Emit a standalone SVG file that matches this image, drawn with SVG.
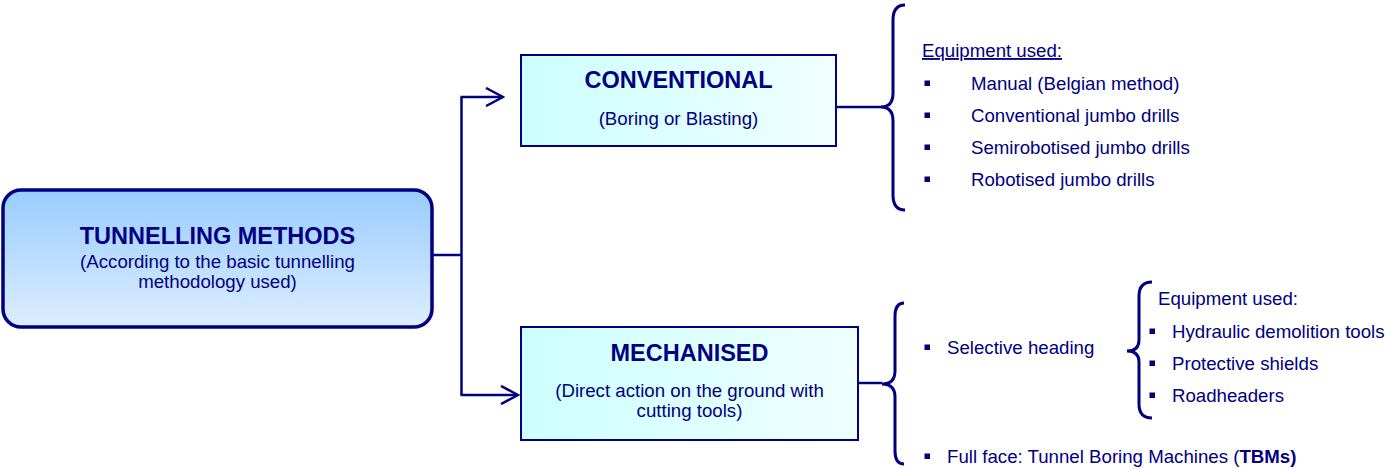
<svg xmlns="http://www.w3.org/2000/svg" width="1385" height="469" viewBox="0 0 1385 469">
<defs>
<linearGradient id="gMain" x1="0" y1="0" x2="0" y2="1">
<stop offset="0" stop-color="#99ccff"/>
<stop offset="1" stop-color="#ddeeff"/>
</linearGradient>
<linearGradient id="gSub" x1="0" y1="0" x2="1" y2="0">
<stop offset="0" stop-color="#ccffff"/>
<stop offset="1" stop-color="#f0ffff"/>
</linearGradient>
<marker id="arr" viewBox="0 0 20 20" refX="18" refY="10" markerWidth="20" markerHeight="20" markerUnits="userSpaceOnUse" orient="auto">
<path d="M1,1 L18,10 L1,19" fill="none" stroke="#000080" stroke-width="2.5"/>
</marker>
<style>
text{font-family:"Liberation Sans",Arial,sans-serif;fill:#000080;}
.t{font-size:23.5px;font-weight:bold;text-anchor:middle;}
.s{font-size:18.67px;text-anchor:middle;}
.l{font-size:18.67px;}
.line{fill:none;stroke:#000080;stroke-width:2.5;}
.brace{fill:none;stroke:#000080;stroke-width:3;}
.b{fill:#000080;}
</style>
</defs>

<g id="connectors">
<path class="line" d="M432,255 L461.5,255"/>
<path class="line" d="M461.5,97 L461.5,395"/>
<path class="line" d="M460.5,97 L503,97" marker-end="url(#arr)"/>
<path class="line" d="M460.5,395 L518,395" marker-end="url(#arr)"/>
<path class="line" d="M836,107 L882,107"/>
<path class="line" d="M858,383 L882,383"/>
</g>

<g id="tunnelling-methods">
<rect x="3" y="190" width="429" height="137" rx="18" ry="18" fill="url(#gMain)" stroke="#000080" stroke-width="3.5"/>
<text class="t" x="217.5" y="244">TUNNELLING METHODS</text>
<text class="s" x="217.5" y="268">(According to the basic tunnelling</text>
<text class="s" x="217.5" y="288">methodology used)</text>
</g>

<g id="conventional">
<rect x="521" y="55" width="315" height="91" fill="url(#gSub)" stroke="#000080" stroke-width="2"/>
<text class="t" x="678.5" y="88">CONVENTIONAL</text>
<text class="s" x="678.5" y="125">(Boring or Blasting)</text>
</g>

<g id="mechanised">
<rect x="521" y="327" width="337" height="113" fill="url(#gSub)" stroke="#000080" stroke-width="2"/>
<text class="t" x="689.5" y="361">MECHANISED</text>
<text class="s" x="689.5" y="397">(Direct action on the ground with</text>
<text class="s" x="689.5" y="417">cutting tools)</text>
</g>

<g id="conventional-equipment">
<path class="brace" d="M905,5 Q893,5 893,20 L893,93 Q893,107 881,107 Q893,107 893,121 L893,195 Q893,210 905,210"/>
<text class="l" x="922" y="57" text-decoration="underline">Equipment used:</text>
<rect class="b" x="924.5" y="80.5" width="5.5" height="5.5"/>
<text class="l" x="971" y="90">Manual (Belgian method)</text>
<rect class="b" x="924.5" y="112.5" width="5.5" height="5.5"/>
<text class="l" x="971" y="122">Conventional jumbo drills</text>
<rect class="b" x="924.5" y="144.5" width="5.5" height="5.5"/>
<text class="l" x="971" y="154">Semirobotised jumbo drills</text>
<rect class="b" x="924.5" y="176.5" width="5.5" height="5.5"/>
<text class="l" x="971" y="186">Robotised jumbo drills</text>
</g>

<g id="mechanised-equipment">
<path class="brace" d="M904,303 Q895,303 895,316 L895,371 Q895,384 882,384 Q895,384 895,397 L895,451 Q895,464 904,464"/>
<rect class="b" x="924.5" y="344.5" width="5.5" height="5.5"/>
<text class="l" x="947" y="354">Selective heading</text>
<path class="brace" d="M1152,282 Q1139,282 1139,296 L1139,340 Q1139,351 1127,351 Q1139,351 1139,362 L1139,404 Q1139,418 1152,418" stroke-width="2"/>
<text class="l" x="1158" y="305">Equipment used:</text>
<rect class="b" x="1149.5" y="328.5" width="5.5" height="5.5"/>
<text class="l" x="1172" y="338">Hydraulic demolition tools</text>
<rect class="b" x="1149.5" y="360.5" width="5.5" height="5.5"/>
<text class="l" x="1172" y="370">Protective shields</text>
<rect class="b" x="1149.5" y="392.5" width="5.5" height="5.5"/>
<text class="l" x="1172" y="402">Roadheaders</text>
<rect class="b" x="924.5" y="453.5" width="5.5" height="5.5"/>
<text class="l" x="947" y="463">Full face: Tunnel Boring Machines (<tspan font-weight="bold">TBMs)</tspan></text>
</g>
</svg>
